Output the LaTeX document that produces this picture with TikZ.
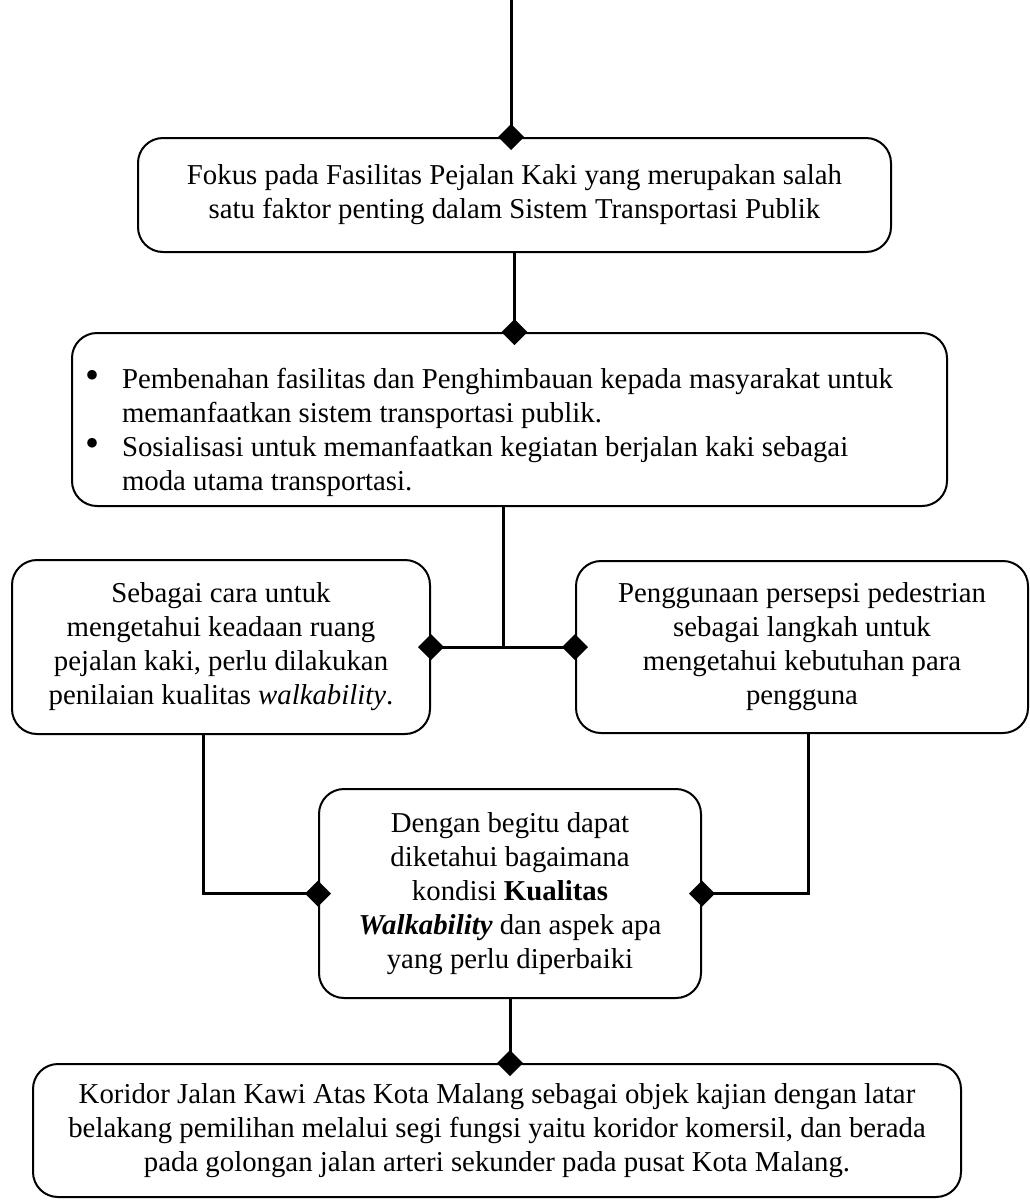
\documentclass[tikz,border=0pt]{standalone}
\usepackage{fontspec}
\setmainfont{Liberation Serif}
\usetikzlibrary{arrows.meta, calc}

\newcommand{\butir}{\makebox[37pt][l]{\fontsize{40}{34}\selectfont\textbullet}}

\begin{document}
\begin{tikzpicture}[
  x=1pt, y=-1pt,
  font=\fontsize{28.8}{34}\selectfont,
  kotak/.style={draw=black, line width=2pt, rounded corners=25pt, align=center,
                fill=white, inner sep=6pt},
  sambung/.style={draw=black, line width=3pt, line join=miter,
                  -{Diamond[length=26pt, width=26pt]}, shorten >=-13pt}
]
\useasboundingbox (0,0) rectangle (1030,1200);

% ---- kotak-kotak alur ---------------------------------------------------
\node[kotak, minimum width=753pt, minimum height=114pt] (fokus) at (514.5,195)
  {Fokus pada Fasilitas Pejalan Kaki yang merupakan salah\\
   satu faktor penting dalam Sistem Transportasi Publik};

\node[kotak, minimum height=173pt, align=flush left, text width=849pt,
      inner xsep=13pt] (pilar) at (509.5,419.5)
  {\rule{0pt}{46pt}\butir Pembenahan fasilitas dan Penghimbauan kepada masyarakat untuk\\
   \hspace*{37pt}memanfaatkan sistem transportasi publik.\\
   \butir Sosialisasi untuk memanfaatkan kegiatan berjalan kaki sebagai\\
   \hspace*{37pt}moda utama transportasi.};

\node[kotak, minimum width=418pt, minimum height=174pt] (cara) at (221,647)
  {Sebagai cara untuk\\ mengetahui keadaan ruang\\ pejalan kaki, perlu dilakukan\\
   penilaian kualitas \textit{walkability}.};

\node[kotak, minimum width=452pt, minimum height=172pt] (persepsi) at (802,647)
  {Penggunaan persepsi pedestrian\\ sebagai langkah untuk\\ mengetahui kebutuhan para\\
   pengguna};

\node[kotak, minimum width=382pt, minimum height=209pt] (hasil) at (510,893.5)
  {Dengan begitu dapat\\ diketahui bagaimana\\ kondisi \textbf{Kualitas}\\
   \textbf{\textit{Walkability}} dan aspek apa\\ yang perlu diperbaiki};

\node[kotak, minimum width=928pt, minimum height=133pt] (koridor) at (497,1130.5)
  {Koridor Jalan Kawi Atas Kota Malang sebagai objek kajian dengan latar\\
   belakang pemilihan melalui segi fungsi yaitu koridor komersil, dan berada\\
   pada golongan jalan arteri sekunder pada pusat Kota Malang.};

% ---- penghubung -----------------------------------------------------------
\coordinate (awal) at (511,0);
\draw[sambung] (awal) -- (awal |- fokus.north);
\draw[sambung] (fokus.south) -- (fokus.south |- pilar.north);
\draw[sambung] ([xshift=-6pt]pilar.south) |- (cara.east);
\draw[sambung] ([xshift=-6pt]pilar.south) |- (persepsi.west);
\draw[sambung] ([xshift=-18pt]cara.south) |- (hasil.west);
\draw[sambung] ([xshift=6pt]persepsi.south) |- (hasil.east);
\draw[sambung] (hasil.south) -- (hasil.south |- koridor.north);

\end{tikzpicture}
\end{document}
